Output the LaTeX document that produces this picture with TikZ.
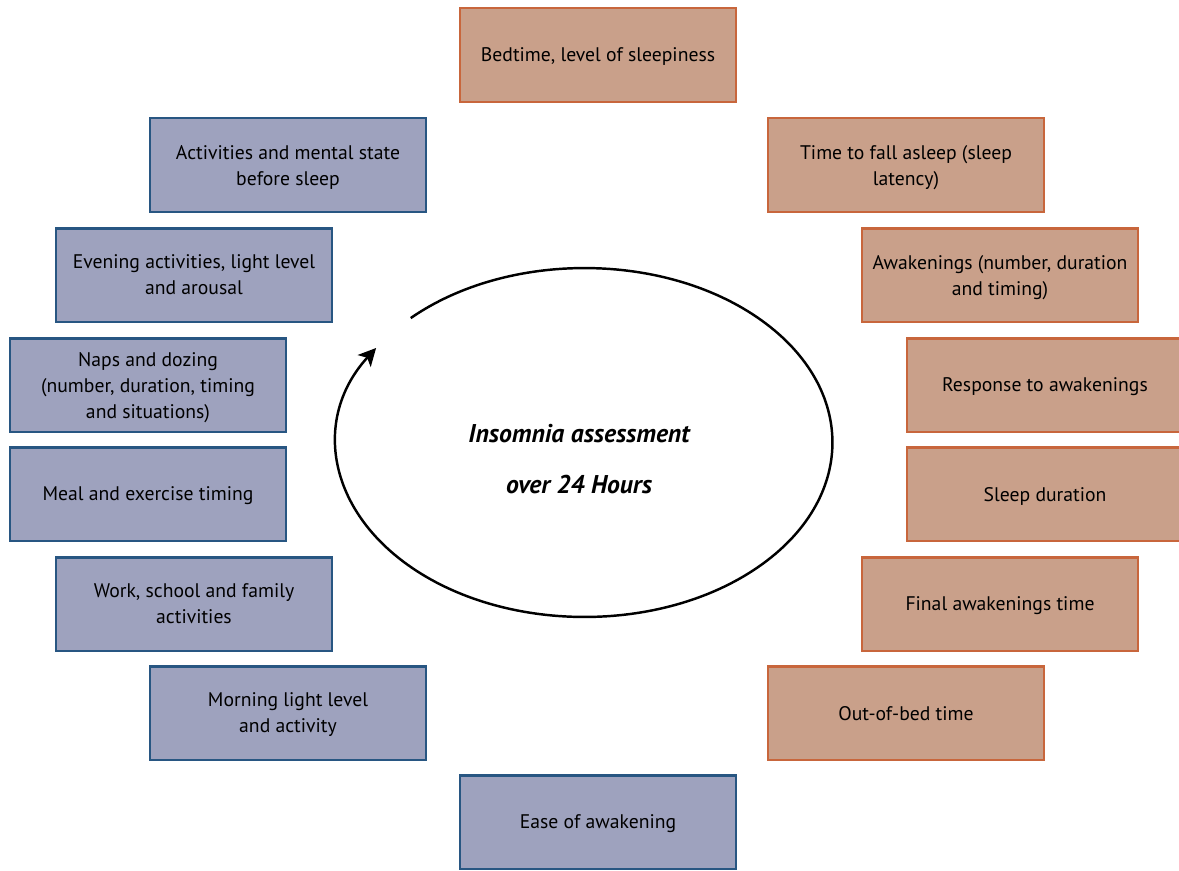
\documentclass[tikz,border=0pt]{standalone}
\usepackage{fontspec}
\setmainfont{PT Sans}
\usetikzlibrary{arrows.meta}
\definecolor{bfill}{RGB}{158,162,190}
\definecolor{bline}{RGB}{40,86,130}
\definecolor{ofill}{RGB}{201,160,138}
\definecolor{oline}{RGB}{200,102,60}
\tikzset{
  box/.style={draw, line width=1.4pt, minimum width=5.52cm, minimum height=1.87cm,
    align=center, font=\fontsize{11.2pt}{14.8pt}\selectfont, inner sep=2pt, text depth=0pt},
  bluebox/.style={box, fill=bfill, draw=bline},
  orangebox/.style={box, fill=ofill, draw=oline},
  cycle/.style={line width=1.4pt, -{Stealth[length=10pt,width=10pt,inset=2.5pt]}},
  title/.style={font=\fontsize{14.6pt}{29.5pt}\selectfont\bfseries\itshape, align=center}
}
\begin{document}
\begin{tikzpicture}[x=0.02cm,y=-0.02cm]
\useasboundingbox (0,0) rectangle (1179,870);
\clip (0,0) rectangle (1179,870);
% right / orange
\node[orangebox] (bed) at (598,55) {Bedtime, level of sleepiness};
\node[orangebox] (lat) at (906,165) {Time to fall asleep (sleep\\latency)};
\node[orangebox] (awk) at (1000,275) {Awakenings (number, duration\\and timing)};
\node[orangebox] (resp) at (1045,385) {Response to awakenings};
\node[orangebox] (dur) at (1045,494) {Sleep duration};
\node[orangebox] (fin) at (1000,604) {Final awakenings time};
\node[orangebox] (out) at (906,713) {Out-of-bed time};
% left / blue
\node[bluebox] (ease) at (598,822) {Ease of awakening};
\node[bluebox] (morn) at (288,713) {Morning light level\\and activity};
\node[bluebox] (work) at (194,604) {Work, school and family\\activities};
\node[bluebox] (meal) at (148,494) {Meal and exercise timing};
\node[bluebox] (naps) at (148,385) {Naps and dozing\\(number, duration, timing\\and situations)};
\node[bluebox] (eve) at (194,275) {Evening activities, light level\\and arousal};
\node[bluebox] (act) at (288,165) {Activities and mental state\\before sleep};
% centre
\coordinate (c) at (584.5,442.5);
\node[title] (ttl) at (579,459) {Insomnia assessment\\over 24 Hours};
\draw[cycle] (c) ++(134.5:4.96cm and 3.49cm)
  arc[start angle=134.5, end angle=-212.8, x radius=4.96cm, y radius=3.49cm];
\end{tikzpicture}
\end{document}
